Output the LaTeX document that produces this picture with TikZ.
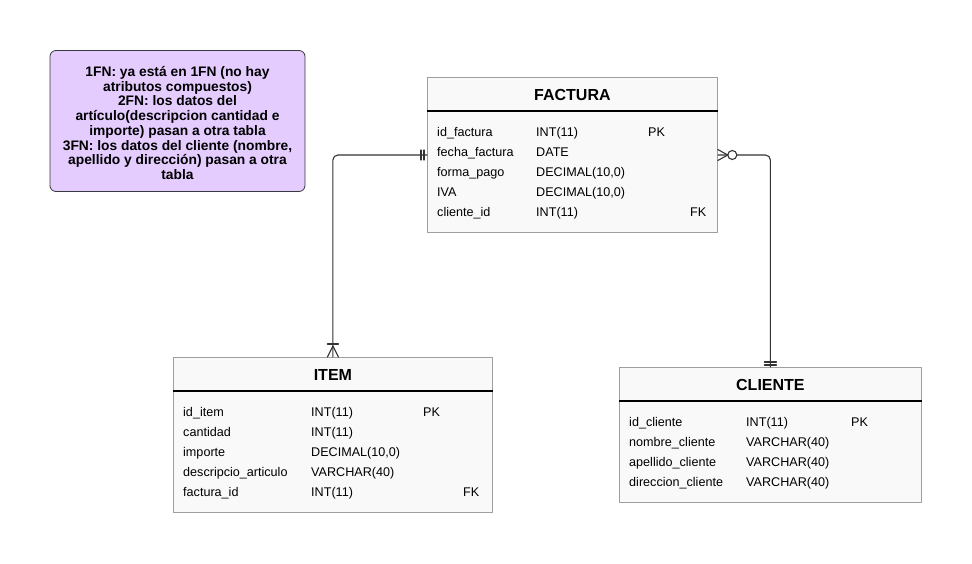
\documentclass[tikz,border=0pt]{standalone}
\usepackage{fontspec}
\setmainfont{Liberation Sans}
\setlength{\lineskiplimit}{-20pt}
\definecolor{lila}{HTML}{E5CCFF}
\definecolor{bordenota}{HTML}{36393D}
\definecolor{bordetabla}{HTML}{9E9E9E}
\definecolor{fondotabla}{HTML}{F9F9F9}
\definecolor{linea}{HTML}{333333}
\begin{document}
\begin{tikzpicture}[x=1pt,y=-1pt,line join=round,line cap=round,
	tabla/.style={draw=bordetabla,fill=fondotabla,line width=0.8pt,anchor=north west,inner sep=0pt},
	titulo/.style={font=\fontsize{16}{19}\selectfont\bfseries},
	campo/.style={anchor=west,inner sep=0pt,text height=9pt,text depth=0pt,font=\fontsize{12.6}{15}\selectfont},
	conector/.style={draw=linea,line width=1.1pt},
	nota/.style={draw=bordenota,fill=lila,rounded corners=6pt,line width=0.8pt,align=center,
		font=\fontsize{13.8}{14.7}\selectfont\bfseries}]
	
	\useasboundingbox (0,0) rectangle (972,564);
	
	% nota
	\node[nota,minimum width=255pt,minimum height=141pt] (nota) at (177.5,121) {};
	\node[align=center,font=\fontsize{13.8}{14.7}\selectfont\bfseries] (nota-txt) at (177.5,123) {1FN: ya está en 1FN (no hay\\atributos compuestos)\\2FN: los datos del\\artículo(descripcion cantidad e\\importe) pasan a otra tabla\\3FN: los datos del cliente (nombre,\\apellido y dirección) pasan a otra\\tabla};
	
	% FACTURA
	\node[tabla,minimum width=290pt,minimum height=155pt] (factura) at (427,77) {};
	\draw[line width=2pt,line cap=butt] ([yshift=-34pt]factura.north west)--([yshift=-34pt]factura.north east);
	\node[titulo] (factura-t) at ([yshift=-18pt]factura.north) {FACTURA};
	\foreach \campo/\tipo [count=\i] in {id\_factura/INT(11),fecha\_factura/DATE,forma\_pago/{DECIMAL(10,0)},IVA/{DECIMAL(10,0)},cliente\_id/INT(11)}
	{
		\node[campo] (factura-c\i) at (437,112+20*\i) {\campo};
		\node[campo] (factura-t\i) at (536,112+20*\i) {\tipo};
	}
	\node[campo] (factura-pk) at (648,132) {PK};
	\node[campo] (factura-fk) at (690,212) {FK};
	
	% ITEM
	\node[tabla,minimum width=319pt,minimum height=155pt] (item) at (173,357) {};
	\draw[line width=2pt,line cap=butt] ([yshift=-34pt]item.north west)--([yshift=-34pt]item.north east);
	\node[titulo] (item-t) at ([yshift=-18pt]item.north) {ITEM};
	\foreach \campo/\tipo [count=\i] in {id\_item/INT(11),cantidad/INT(11),importe/{DECIMAL(10,0)},descripcio\_articulo/VARCHAR(40),factura\_id/INT(11)}
	{
		\node[campo] (item-c\i) at (183,392+20*\i) {\campo};
		\node[campo] (item-t\i) at (311,392+20*\i) {\tipo};
	}
	\node[campo] (item-pk) at (423,412) {PK};
	\node[campo] (item-fk) at (463,492) {FK};
	
	% CLIENTE
	\node[tabla,minimum width=302pt,minimum height=135pt] (cliente) at (619,367) {};
	\draw[line width=2pt,line cap=butt] ([yshift=-34pt]cliente.north west)--([yshift=-34pt]cliente.north east);
	\node[titulo] (cliente-t) at ([yshift=-18pt]cliente.north) {CLIENTE};
	\foreach \campo/\tipo [count=\i] in {id\_cliente/INT(11),nombre\_cliente/VARCHAR(40),apellido\_cliente/VARCHAR(40),direccion\_cliente/VARCHAR(40)}
	{
		\node[campo] (cliente-c\i) at (629,402+20*\i) {\campo};
		\node[campo] (cliente-t\i) at (746,402+20*\i) {\tipo};
	}
	\node[campo] (cliente-pk) at (851,422) {PK};
	
	% relaciones
	\coordinate (fac-izq) at ([yshift=-78pt]factura.north west);
	\coordinate (fac-der) at ([yshift=-78pt]factura.north east);
	\draw[conector,rounded corners=5pt] (fac-izq) -| (item.north);
	\draw[conector,rounded corners=5pt] (fac-der) -| (cliente.north);
	% uno obligatorio
	\draw[conector] ([xshift=-6pt,yshift=5pt]fac-izq)--++(0,10);
	\draw[conector] ([xshift=-3pt,yshift=5pt]fac-izq)--++(0,10);
	% uno a muchos
	\draw[conector] ([xshift=-5.5pt,yshift=13pt]item.north)--++(11,0);
	\draw[conector] ([xshift=-5.5pt]item.north)--([yshift=11pt]item.north)--([xshift=5.5pt]item.north);
	% cero a muchos
	\draw[conector] ([yshift=5.5pt]fac-der)--([xshift=10pt]fac-der)--([yshift=-5.5pt]fac-der);
	\draw[conector,fill=white] ([xshift=14.5pt]fac-der) circle[radius=4.5pt];
	% uno obligatorio
	\draw[conector] ([xshift=-6pt,yshift=5pt]cliente.north)--++(12,0);
	\draw[conector] ([xshift=-6pt,yshift=2pt]cliente.north)--++(12,0);
	
\end{tikzpicture}
\end{document}
